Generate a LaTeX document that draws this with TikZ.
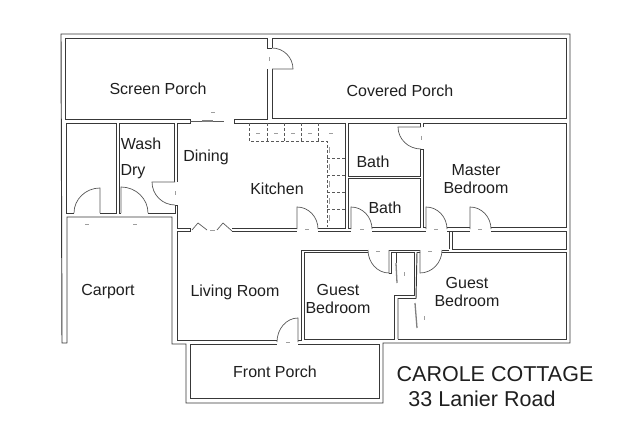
\documentclass[tikz,border=0pt]{standalone}
\usepackage{fontspec}
\setmainfont{Liberation Sans}
\usetikzlibrary{calc}
\tikzset{
  wall/.style={draw=black!78,line width=0.95pt,line join=miter},
  thin wall/.style={draw=black!65,line width=0.7pt},
  door/.style={draw=black!65,line width=0.7pt},
  slider/.style={draw=black!50,line width=1.3pt},
  cabinet/.style={draw=black!65,line width=0.7pt,dash pattern=on 3pt off 2pt},
  tick/.style={draw=black!38,line width=0.7pt},
  room/.style={text=black!88,font=\fontsize{16}{18.5}\selectfont,align=center,inner sep=0pt},
  title/.style={text=black!88,font=\fontsize{21.5}{24}\selectfont,inner sep=0pt},
}
\begin{document}
\begin{tikzpicture}[x=1pt,y=-1pt]
  \useasboundingbox[fill=white] (0,0) rectangle (640,433);
  \draw[wall] (67,343) -- (62,343) -- (61,34) -- (570,34) -- (570,343) -- (383,343) -- (383,403) -- (186,403) -- (186,344) -- (172,344) -- (172,217) -- (67,217) -- (67,343);
  \draw[wall] (267,48) -- (267,38) -- (65,38) -- (65,119) -- (190,119) -- (190,123) -- (177,123) -- (177,182);
  \draw[wall] (234,123) -- (234,119) -- (267,119) -- (267,69);
  \draw[wall] (272,48) -- (272,38) -- (566,38) -- (566,118) -- (272,118) -- (272,69);
  \draw[wall] (267,48) -- (272,48);
  \draw[wall] (74,213) -- (66,213) -- (66,123) -- (116,123) -- (116,213) -- (100,213);
  \draw[wall] (121,213) -- (119,213) -- (119,123) -- (174,123) -- (174,182);
  \draw[wall] (148,213) -- (175,213) -- (175,205) -- (177,205) -- (177,228) -- (190,228) -- (190,231) -- (177,231) -- (177,340) -- (277,340);
  \draw[wall] (234,123) -- (345,123) -- (345,228) -- (318,228);
  \draw[wall] (232,228.5) -- (297,228.5) (232,231.5) -- (297,231.5);
  \draw[wall] (420,127) -- (420,123) -- (348,123) -- (348,176) -- (420,176) -- (420,149);
  \draw[wall] (351,228) -- (348,228) -- (348,178) -- (420,178) -- (420,227) -- (372,227);
  \draw[wall] (423,127) -- (423,123) -- (566,123) -- (566,227) -- (491,227);
  \draw[wall] (470,227) -- (447,227);
  \draw[wall] (426,227) -- (423,227) -- (423,149) -- (420,149);
  \draw[wall] (318,231) -- (351,231) (372,231) -- (426,231) (447,231) -- (470,231) (491,231) -- (566,231) -- (566,249) -- (452,249) -- (452,231);
  \draw[wall] (449,231) -- (449,249);
  \draw[wall] (298,344) -- (379,344) -- (379,398) -- (190,398) -- (190,344) -- (277,344);
  \draw[wall] (298,340) -- (301,340) -- (301,250) -- (368,250) (389,250) -- (420,250) (442,250) -- (449,250);
  \draw[wall] (368,252.5) -- (304,252.5) -- (304,339) -- (394,339) -- (394,295) -- (414,295) -- (414,252.5) -- (391,252.5) -- (391,273) -- (389,273);
  \draw[wall] (396,252.5) -- (396,263);
  \draw[wall] (398,339) -- (398,298.5) -- (416,298.5) -- (417,252.5) -- (420,252.5);
  \draw[wall] (442,252.5) -- (566,252.5) -- (566,339) -- (398,339);
  \foreach \hx/\hy/\lx/\ly/\ox/\oy in {272/69/293/69/272/48,175/182/152/182/175/205,100/213/100/188/74/213,121/213/121/187/148/213,421/127/398/127/421/149,297/229/297/207/318/229,351/229/351/207/372/229,426/229/426/207/447/229,470/229/470/207/491/229,389/250/389/273/368/250,420/250/420/273/442/250,298/342/298/318/277/342}
    \draw[door] (\hx,\hy) -- (\lx,\ly) .. controls ($(\lx,\ly)+.55*(\ox,\oy)-.55*(\hx,\hy)$) and ($(\ox,\oy)+.55*(\lx,\ly)-.55*(\hx,\hy)$) .. (\ox,\oy);
  \draw[thin wall] (192,230) -- (198,223) -- (207,230) (217,230) -- (223,223) -- (232,231);
  \draw[tick] (210,230) -- (215,230);
  \draw[thin wall] (190,121) -- (224,121);
  \draw[slider] (202,121) -- (213,121);
  \draw[slider] (396,263) -- (397,283);
  \draw[slider] (415,303) -- (417,328);
  \draw[cabinet] (249,123) -- (249,141) -- (327,141) -- (327,227);
  \foreach \cx in {267,284,301,318}
    \draw[cabinet] (\cx,123) -- (\cx,141);
  \foreach \cy in {158,175,192,209}
    \draw[cabinet] (327,\cy) -- (345,\cy);
  \foreach \cx in {258,276,293,310,331}
    \draw[tick] (\cx-2,133) -- (\cx+2,133);
  \foreach \cy in {150,167,184,201,218}
    \draw[tick] (329,\cy-3) -- (329,\cy+3);
  \foreach \tx/\ty in {87/224,135/224,288/342,307/229,362/229,436/229,480/229,378/251,430/251,213/112}
    \draw[tick] (\tx-2,\ty) -- (\tx+2,\ty);
  \foreach \tx/\ty in {269/59,175/193,421/138,404/274,424/318}
    \draw[tick] (\tx,\ty-2) -- (\tx,\ty+2);
  \node[room] (screen) at (158,88.5) {Screen Porch};
  \node[room] (covered) at (400,91) {Covered Porch};
  \node[room] (wash) at (141,143.5) {Wash};
  \node[room] (dry) at (133,171.5) {Dry};
  \node[room] (dining) at (206,157.5) {Dining};
  \node[room] (kitchen) at (277,188.5) {Kitchen};
  \node[room] (bathone) at (373,161.5) {Bath};
  \node[room] (bathtwo) at (385,208) {Bath};
  \node[room] (master) at (476,179) {Master\\Bedroom};
  \node[room] (carport) at (108,291.5) {Carport};
  \node[room] (living) at (235,292.5) {Living Room};
  \node[room] (guestone) at (338,299) {Guest\\Bedroom};
  \node[room] (guesttwo) at (467,292) {Guest\\Bedroom};
  \node[room] (front) at (275,371.5) {Front Porch};
  \node[title] (cottage) at (495,374.5) {CAROLE COTTAGE};
  \node[title] (road) at (482,398.5) {33 Lanier Road};
\end{tikzpicture}
\end{document}
